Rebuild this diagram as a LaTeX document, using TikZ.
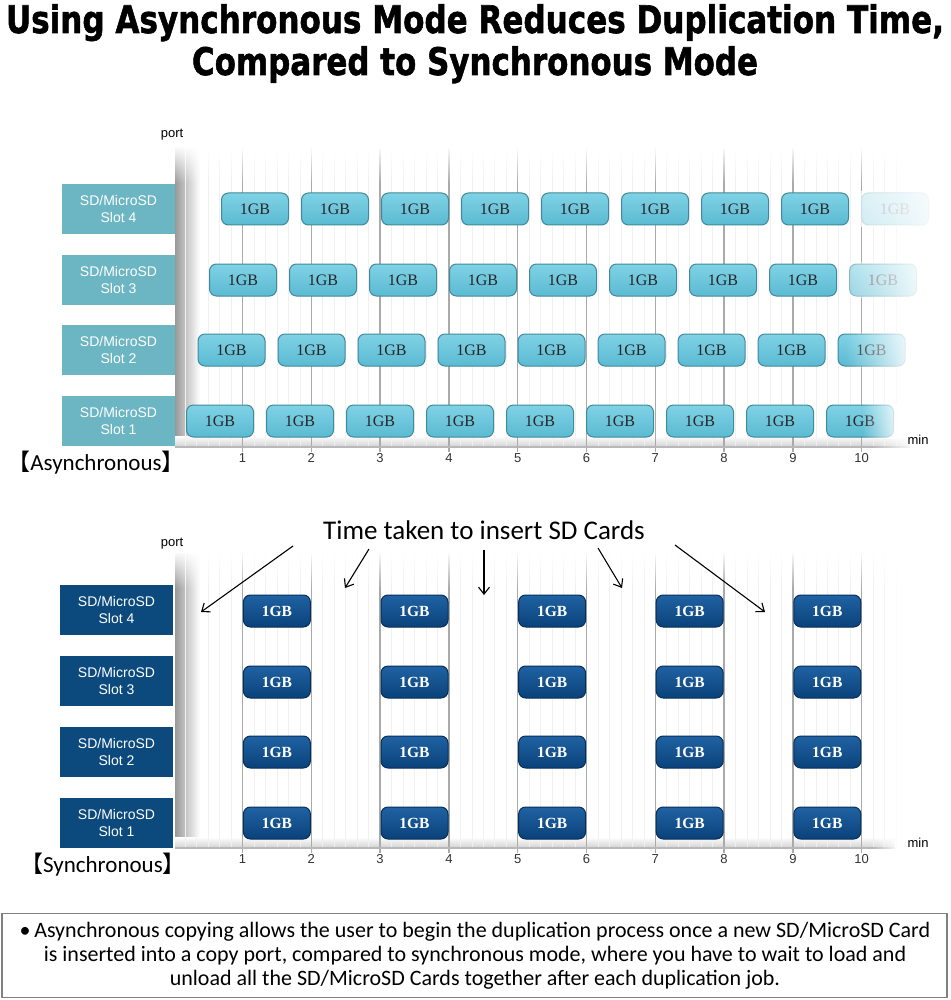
\documentclass[tikz,border=0pt]{standalone}
\usepackage{fontspec}
\usepackage{graphicx}
\setmainfont{Liberation Sans}
\newfontfamily\titlefont[BoldFeatures={FakeBold=1.6}]{DejaVu Sans}
\newfontfamily\cjkfont{Noto Sans CJK SC}
\newfontfamily\capfont{Carlito}
\newfontfamily\gbfont{Liberation Serif}
\usetikzlibrary{arrows.meta,fadings}
\definecolor{aslot}{RGB}{108,182,196}
\definecolor{aboxt}{RGB}{128,210,229}
\definecolor{aboxb}{RGB}{90,186,210}
\definecolor{aboxd}{RGB}{62,138,153}
\definecolor{sslot}{RGB}{12,74,126}
\definecolor{sboxt}{RGB}{32,98,163}
\definecolor{sboxb}{RGB}{10,66,122}
\definecolor{sboxd}{RGB}{6,46,90}
\definecolor{stripe}{RGB}{240,240,240}
\definecolor{major}{RGB}{170,170,170}
\tikzfading[name=fadeR, left color=transparent!100, right color=transparent!0]
\tikzfading[name=fadeT, top color=transparent!0, bottom color=transparent!100]
\tikzfading[name=fadeRa, left color=transparent!30, right color=transparent!5]
\tikzfading[name=fadeRb, left color=transparent!65, right color=transparent!5]
\tikzfading[name=fadeRc, left color=transparent!100, right color=transparent!5]
\newcommand\chartbg[3]{%
  \shade[left color=black!40, right color=white] (175,#1) rectangle (200,#2);
  \shade[top color=white, bottom color=black!18] (175,#2-11) rectangle (#3,#2);
  \foreach \k in {-5,...,57} \draw[stripe, line width=0.6pt] ({242.5+\k*68.8/6},#1) -- ({242.5+\k*68.8/6},#2);
  \foreach \t in {1,...,10} \draw[major, line width=1.5pt] ({242.5+(\t-1)*68.8},#1) -- ({242.5+(\t-1)*68.8},#2+5);
  \draw[black!28, line width=1.4pt] (175,#2) -- (#3,#2);
  \fill[white, path fading=fadeT] (170,#1-2) rectangle (915,#1+35);
  \fill[white, path fading=fadeR] (872,#1-2) rectangle (#3+5,#2+10);
}
\begin{document}
\begin{tikzpicture}[x=1pt,y=-1pt,
  abox/.style={draw=aboxd, line width=1pt, rounded corners=7pt, minimum width=67pt, minimum height=32pt, inner sep=0pt, top color=aboxt, bottom color=aboxb, text=black!85, font=\gbfont\fontsize{16}{16}\selectfont},
  sbox/.style={draw=sboxd, line width=1pt, rounded corners=7pt, minimum width=67pt, minimum height=32pt, inner sep=0pt, top color=sboxt, bottom color=sboxb, text=white, font=\gbfont\bfseries\fontsize{15.5}{16}\selectfont},
  aslotbox/.style={fill=aslot, minimum width=113pt, minimum height=50pt, inner sep=0pt, text=white, align=center, font=\fontsize{14}{17}\selectfont},
  sslotbox/.style={fill=sslot, minimum width=113pt, minimum height=50pt, inner sep=0pt, text=white, align=center, font=\fontsize{14}{17}\selectfont},
  ticklbl/.style={inner sep=0pt, text=black!80, font=\fontsize{13}{13}\selectfont},
  axlbl/.style={inner sep=0pt, text=black, font=\fontsize{13}{13}\selectfont},
  modelbl/.style={inner sep=0pt, font=\fontsize{23}{23}\selectfont},
  arr/.style={black, line width=1.1pt, -{Straight Barb[length=7pt,width=11pt]}}
]
\useasboundingbox (0,0) rectangle (950,1000);
\fill[white] (0,0) rectangle (950,1000);

% title
\node[anchor=base, inner sep=0pt] (title1) at (475,33) {\resizebox{938pt}{\height}{\titlefont\bfseries\fontsize{38}{38}\selectfont Using Asynchronous Mode Reduces Duplication Time,}};
\node[anchor=base, inner sep=0pt] (title2) at (475,75) {\resizebox{566pt}{\height}{\titlefont\bfseries\fontsize{38}{38}\selectfont Compared to Synchronous Mode}};

% ---------- asynchronous chart ----------
\chartbg{148}{447}{910}
\foreach \k in {0,...,8} {
  \node[abox] (a4\k) at ({255+80*\k},209) {1GB};
  \node[abox] (a3\k) at ({243+80*\k},280) {1GB};
  \node[abox] (a2\k) at ({231.5+80*\k},350) {1GB};
  \node[abox] (a1\k) at ({220+80*\k},421) {1GB};
}
\fill[white, path fading=fadeRa] (853,191) rectangle (936,227);
\fill[white, path fading=fadeRb] (843,262) rectangle (926,298);
\fill[white, path fading=fadeRc] (845,332) rectangle (913,368);
\fill[white, path fading=fadeRc] (862,403) rectangle (901,439);

\node[aslotbox] (aslot4) at (118.5,209) {SD/MicroSD\\Slot 4};
\node[aslotbox] (aslot3) at (118.5,280) {SD/MicroSD\\Slot 3};
\node[aslotbox] (aslot2) at (118.5,350) {SD/MicroSD\\Slot 2};
\node[aslotbox] (aslot1) at (118.5,421) {SD/MicroSD\\Slot 1};
\foreach \t in {1,...,10} \node[ticklbl] (at\t) at ({242.5+(\t-1)*68.8},458) {\t};
\node[axlbl] (aport) at (172,135) {port};
\node[axlbl] (amin) at (918,440) {min};
\node[modelbl] (amode) at (96,463) {{\cjkfont 【}{\capfont Asynchronous}{\cjkfont 】}};

% ---------- synchronous chart ----------
\chartbg{553}{848}{895}
\foreach \r/\y in {4/611,3/682,2/752,1/823} {
  \foreach \c in {1,...,5} {
    \node[sbox] (s\r\c) at ({242.5+68.8*(2*\c-1.5)},\y) {1GB};
  }
}
\node[sslotbox] (sslot4) at (116.5,610) {SD/MicroSD\\Slot 4};
\node[sslotbox] (sslot3) at (116.5,681) {SD/MicroSD\\Slot 3};
\node[sslotbox] (sslot2) at (116.5,752) {SD/MicroSD\\Slot 2};
\node[sslotbox] (sslot1) at (116.5,823) {SD/MicroSD\\Slot 1};
\foreach \t in {1,...,10} \node[ticklbl] (st\t) at ({242.5+(\t-1)*68.8},859) {\t};
\node[axlbl] (sport) at (172,544) {port};
\node[axlbl] (smin) at (918,843) {min};
\node[modelbl] (smode) at (103,865) {{\cjkfont 【}{\capfont Synchronous}{\cjkfont 】}};

% insertion note and arrows
\node[inner sep=0pt, font=\capfont\fontsize{27}{27}\selectfont] (ttl) at (484,530) {Time taken to insert SD Cards};
\coordinate (b1) at (293,546); \coordinate (e1) at (201,612);
\coordinate (b2) at (369,549); \coordinate (e2) at (345,588);
\coordinate (b3) at (484,550); \coordinate (e3) at (484,595);
\coordinate (b4) at (598,548); \coordinate (e4) at (622,588);
\coordinate (b5) at (675,545); \coordinate (e5) at (765,612);
\foreach \i in {1,...,5} \draw[arr] (b\i) -- (e\i);

% bottom note
\node[draw=black!50, line width=1.5pt, minimum width=945pt, minimum height=84pt, inner sep=0pt] (notebox) at (474.5,955.5) {};
\node[inner sep=0pt, align=center, font=\capfont\fontsize{22}{24}\selectfont] (note) at (475,956) {%
\textbullet\,Asynchronous copying allows the user to begin the duplication process once a new SD/MicroSD Card\\
is inserted into a copy port, compared to synchronous mode, where you have to wait to load and\\
unload all the SD/MicroSD Cards together after each duplication job.};
\end{tikzpicture}
\end{document}
